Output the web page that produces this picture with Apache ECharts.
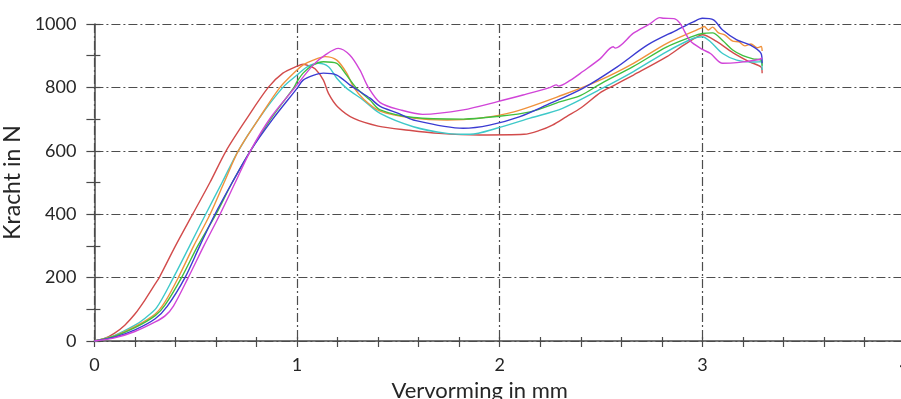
<!DOCTYPE html>
<html>
<head>
<meta charset="utf-8">
<script src="https://cdn.jsdelivr.net/npm/echarts@6/dist/echarts.min.js"></script>
<style>
html,body{margin:0;padding:0;background:#fff;}
#chart{width:901px;height:399px;}
</style>
</head>
<body>
<div id="chart"></div>
<script>
// ---- data (x in mm, y in N) ----
const xTicksMajor = [0, 1, 2, 3, 4];
const yTicksMajor = [0, 200, 400, 600, 800, 1000];

const curveRed = [[0,0],[0.05,8],[0.1,25],[0.15,50],[0.2,85],[0.25,130],[0.3,180],[0.32,200],[0.4,300],[0.485,400],[0.57,500],[0.65,600],[0.75,700],[0.858,800],[0.93,845],[1.0,867],[1.03,873],[1.06,868],[1.09,858],[1.13,823],[1.155,781],[1.2,739],[1.28,702],[1.4,678],[1.55,665],[1.7,655],[1.9,650],[2.12,652],[2.2,665],[2.26,681],[2.33,708],[2.4,735],[2.5,785],[2.56,805],[2.66,839],[2.825,897],[2.9,930],[2.97,958],[3.0,966],[3.07,945],[3.15,910],[3.235,880],[3.29,864],[3.295,845]];
const curveCyan = [[0,0],[0.1,18],[0.2,50],[0.25,72],[0.307,105],[0.39,200],[0.47,300],[0.549,400],[0.63,500],[0.71,600],[0.81,700],[0.93,800],[1.0,839],[1.05,865],[1.105,876],[1.155,865],[1.196,829],[1.245,797],[1.327,760],[1.41,718],[1.574,676],[1.74,655],[1.854,652],[1.985,671],[2.15,703],[2.31,734],[2.5,795],[2.66,850],[2.825,913],[2.956,955],[3.0,960],[3.04,944],[3.1,907],[3.17,886],[3.25,880],[3.29,881],[3.295,855]];
const curveOrange = [[0,0],[0.1,16],[0.2,45],[0.3,85],[0.35,125],[0.414,200],[0.49,300],[0.571,400],[0.64,500],[0.71,600],[0.81,700],[0.916,800],[1.0,855],[1.03,871],[1.08,886],[1.138,897],[1.196,886],[1.245,845],[1.28,800],[1.33,762],[1.41,725],[1.574,703],[1.74,697],[1.9,703],[2.07,723],[2.31,776],[2.495,823],[2.66,876],[2.825,939],[2.99,986],[3.01,992],[3.03,981],[3.05,990],[3.08,972],[3.11,966],[3.15,946],[3.18,944],[3.21,931],[3.24,937],[3.27,925],[3.29,929],[3.295,915]];
const curveGreen = [[0,0],[0.1,15],[0.2,42],[0.3,80],[0.35,115],[0.43,200],[0.51,300],[0.6,400],[0.68,500],[0.77,600],[0.87,700],[0.985,800],[1.0,818],[1.03,845],[1.08,871],[1.13,881],[1.196,876],[1.237,845],[1.29,800],[1.36,760],[1.41,729],[1.574,705],[1.82,700],[1.985,708],[2.15,723],[2.3,755],[2.4,775],[2.5,812],[2.66,866],[2.825,928],[2.956,962],[3.0,970],[3.05,972],[3.1,948],[3.15,918],[3.2,900],[3.25,890],[3.29,886],[3.295,868]];
const curveBlue = [[0,0],[0.1,12],[0.2,35],[0.3,70],[0.36,110],[0.447,200],[0.52,300],[0.595,400],[0.68,500],[0.77,600],[0.88,700],[1.0,797],[1.03,823],[1.08,838],[1.13,845],[1.196,839],[1.26,808],[1.29,795],[1.36,766],[1.41,740],[1.5,718],[1.574,697],[1.82,671],[1.95,681],[2.1,708],[2.23,744],[2.41,797],[2.58,865],[2.73,934],[2.874,981],[2.956,1007],[3.0,1018],[3.055,1013],[3.1,981],[3.17,950],[3.235,934],[3.29,907],[3.295,876]];
const curveMagenta = [[0,0],[0.1,10],[0.2,30],[0.3,60],[0.35,80],[0.39,110],[0.463,200],[0.54,300],[0.62,400],[0.695,500],[0.77,600],[0.87,705],[0.99,800],[1.08,871],[1.138,902],[1.204,923],[1.26,902],[1.31,855],[1.35,802],[1.41,752],[1.51,729],[1.62,715],[1.82,729],[1.99,755],[2.115,776],[2.25,800],[2.28,808],[2.29,804],[2.35,823],[2.41,850],[2.495,890],[2.56,928],[2.57,924],[2.66,971],[2.74,1000],[2.79,1020],[2.81,1018],[2.86,1017],[2.89,1002],[2.94,947],[3.0,920],[3.04,907],[3.1,876],[3.17,878],[3.28,888],[3.295,893]];

const curves = [
  {name: 'rood', data: curveRed, color: '#d24b4b'},
  {name: 'cyaan', data: curveCyan, color: '#3ec9c9'},
  {name: 'oranje', data: curveOrange, color: '#f0923c'},
  {name: 'groen', data: curveGreen, color: '#3fbf3f'},
  {name: 'blauw', data: curveBlue, color: '#3b3bd2'},
  {name: 'magenta', data: curveMagenta, color: '#d145d8'}
];

const FONT = 'Lato';
const txt = '#262626';
const axisCol = '#4a4a4a';
const gridStyle = {color: '#4d4d4d', width: 1.2, type: [9, 3, 2, 3]};

function isMajor(v, list) {
  return list.some(t => Math.abs(t - v) < 1e-6);
}

const chart = echarts.init(document.getElementById('chart'), null, {renderer: 'canvas'});
chart.setOption({
  animation: false,
  backgroundColor: '#ffffff',
  grid: {left: 94.4, top: 24, width: 810.6, bottom: 58, containLabel: false, outerBoundsMode: 'none'},
  xAxis: [
    {
      type: 'value', min: 0, max: 4, interval: 0.2,
      axisLine: {show: true, onZero: false, lineStyle: {color: axisCol, width: 1.5}},
      axisTick: {show: true, length: 6, inside: false, lineStyle: {color: axisCol, width: 1.2}},
      axisLabel: {show: true, margin: 15, color: txt, fontSize: 18, fontFamily: FONT,
        formatter: v => isMajor(v, xTicksMajor) ? String(Math.round(v)) : ''},
      splitLine: {show: false},
      name: 'Vervorming in mm', nameLocation: 'middle', nameGap: 39,
      nameTextStyle: {color: txt, fontSize: 22, fontFamily: FONT, padding: [0, 40, 0, 0]}
    },
    {
      type: 'value', min: 0, max: 4, interval: 0.2, position: 'bottom',
      axisLine: {show: false}, axisLabel: {show: false}, splitLine: {show: false},
      axisTick: {show: true, length: 4, inside: true, lineStyle: {color: axisCol, width: 1.2}}
    },
    {
      type: 'value', min: 0, max: 4, interval: 1, position: 'bottom',
      axisLine: {show: false}, axisLabel: {show: false}, axisTick: {show: false},
      splitLine: {show: true, lineStyle: gridStyle}
    }
  ],
  yAxis: [
    {
      type: 'value', min: 0, max: 1000, interval: 100,
      axisLine: {show: true, onZero: false, lineStyle: {color: axisCol, width: 1.5}},
      axisTick: {show: true, length: 8, inside: false, lineStyle: {color: axisCol, width: 1.2}},
      axisLabel: {show: true, margin: 18, color: txt, fontSize: 18, fontFamily: FONT,
        formatter: v => isMajor(v, yTicksMajor) ? String(Math.round(v)) : ''},
      splitLine: {show: false},
      name: 'Kracht in N', nameLocation: 'middle', nameGap: 58,
      nameTextStyle: {color: txt, fontSize: 23, fontFamily: FONT}
    },
    {
      type: 'value', min: 0, max: 1000, interval: 100, position: 'left',
      axisLine: {show: false}, axisLabel: {show: false}, splitLine: {show: false},
      axisTick: {show: true, length: 6, inside: true, lineStyle: {color: axisCol, width: 1.2}}
    },
    {
      type: 'value', min: 0, max: 1000, interval: 200, position: 'left',
      axisLine: {show: false}, axisLabel: {show: false}, axisTick: {show: false},
      splitLine: {show: true, lineStyle: gridStyle}
    }
  ],
  series: curves.map(c => ({
    name: c.name, type: 'line', data: c.data,
    xAxisIndex: 0, yAxisIndex: 0,
    showSymbol: false, symbol: 'none',
    smooth: 0.3, clip: false,
    lineStyle: {color: c.color, width: 1.4},
    itemStyle: {color: c.color},
    z: 3
  }))
});
</script>
</body>
</html>
